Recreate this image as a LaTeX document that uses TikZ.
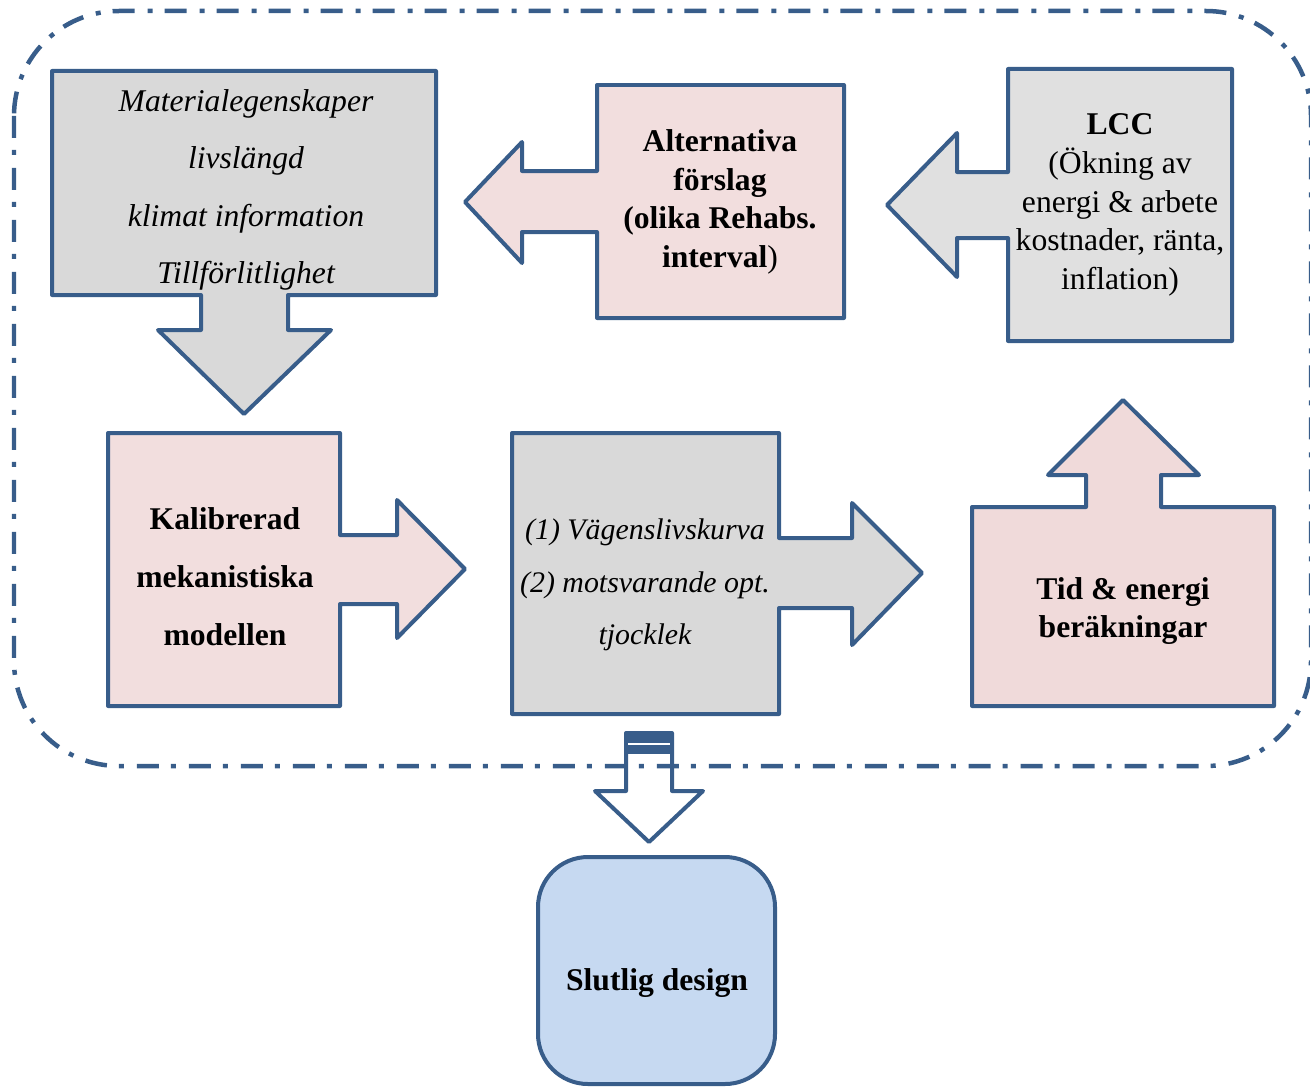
\documentclass[tikz,border=0pt]{standalone}
\usepackage{fontspec}
\setmainfont{Liberation Serif}
\definecolor{bord}{RGB}{56,93,138}
\definecolor{gfill}{RGB}{217,217,217}
\definecolor{lfill}{RGB}{224,224,224}
\definecolor{pfill}{RGB}{242,222,222}
\definecolor{tfill}{RGB}{240,218,218}
\definecolor{bfill}{RGB}{198,217,241}
\begin{document}
\begin{tikzpicture}[x=0.02cm,y=-0.02cm,
  blk/.style={draw=bord,line width=0.08cm,line join=round},
  txt/.style={align=center,inner sep=0pt},
  frame/.style={draw=bord,line width=0.09cm,dash pattern=on 0.44cm off 0.24cm on 0.1cm off 0.26cm,rounded corners=2.1cm}]
\useasboundingbox (0,0) rectangle (1310,1088);
\begin{scope}
\clip (0,0) rectangle (1310,1088);
% Box 1: Materialegenskaper with down arrow
\path[blk,fill=gfill] (52,71) -- (436,71) -- (436,295) -- (288,295) -- (288,330) -- (331,330) -- (244,414) -- (158,330) -- (201,330) -- (201,295) -- (52,295) -- cycle;
% Box 2: Alternativa with left arrow
\path[blk,fill=pfill] (597,85) -- (844,85) -- (844,318) -- (597,318) -- (597,232) -- (522,232) -- (522,263) -- (465,202) -- (522,142) -- (522,171) -- (597,171) -- cycle;
% Box 3: LCC with left arrow
\path[blk,fill=lfill] (1008,69) -- (1232,69) -- (1232,341) -- (1008,341) -- (1008,238) -- (957,238) -- (957,277) -- (887,205) -- (957,133) -- (957,172) -- (1008,172) -- cycle;
% Box 4: Kalibrerad with right arrow
\path[blk,fill=pfill] (108,433) -- (340,433) -- (340,535) -- (397,535) -- (397,500) -- (465,569) -- (397,638) -- (397,604) -- (340,604) -- (340,706) -- (108,706) -- cycle;
% Box 5: Vaegenslivskurva with right arrow
\path[blk,fill=gfill] (512,433) -- (779,433) -- (779,538) -- (852,538) -- (852,503) -- (922,573) -- (852,645) -- (852,608) -- (779,608) -- (779,714) -- (512,714) -- cycle;
% Box 6: Tid & energi with up arrow
\path[blk,fill=tfill] (972,507) -- (1086,507) -- (1086,475) -- (1048,475) -- (1123,400) -- (1199,475) -- (1161,475) -- (1161,507) -- (1274,507) -- (1274,706) -- (972,706) -- cycle;
% Down arrow to final design
\path[blk,fill=white] (626,733) -- (672,733) -- (672,791) -- (703,791) -- (649,842) -- (595,791) -- (626,791) -- cycle;
\fill[bord] (624,733) rectangle (674,754);
\draw[white,line width=0.03cm] (628,744) -- (670,744);
% Final design
\path[blk,fill=bfill,rounded corners=1cm] (538,857) rectangle (775,1084);
% Dashed frame
\path[frame] (14,11) rectangle (1311,766);
\end{scope}
% Texts
\node[txt,font=\fontsize{18}{32.7}\selectfont\itshape] (t1) at (246,190) {Materialegenskaper\\livslängd\\klimat information\\Tillförlitlighet};
\node[txt,font=\fontsize{18}{22}\selectfont\bfseries] (t2) at (720,202) {Alternativa\\förslag\\(olika Rehabs.\\interval\textmd{)}};
\node[txt,font=\fontsize{18}{22}\selectfont] (t3) at (1120,205) {\textbf{LCC}\\(Ökning av\\energi \& arbete\\kostnader, ränta,\\inflation)};
\node[txt,font=\fontsize{18}{33}\selectfont\bfseries] (t4) at (225,577) {Kalibrerad\\mekanistiska\\modellen};
\node[txt,font=\fontsize{17}{30}\selectfont\itshape] (t5) at (645,585) {(1) Vägenslivskurva\\(2) motsvarande opt.\\tjocklek};
\node[txt,font=\fontsize{18}{22}\selectfont\bfseries] (t6) at (1123,611) {Tid \& energi\\beräkningar};
\node[txt,font=\fontsize{18}{22}\selectfont\bfseries] (t7) at (657,983) {Slutlig design};
\end{tikzpicture}
\end{document}
